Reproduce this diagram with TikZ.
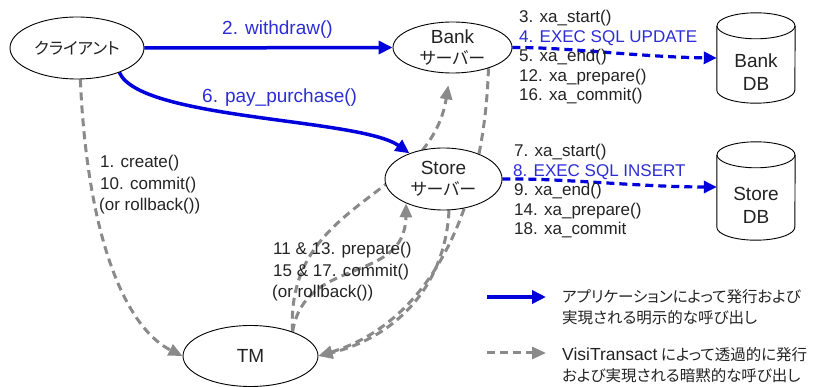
\documentclass[tikz,border=0pt]{standalone}
\usepackage{fontspec}
\setmainfont{Liberation Sans}
\newfontfamily\jp[RawFeature=+palt]{Noto Sans CJK JP}
\usetikzlibrary{arrows.meta,shapes.geometric}
\pgfdeclarelayer{bg}
\pgfsetlayers{bg,main}
\definecolor{lineblue}{RGB}{0,0,220}
\definecolor{txtblue}{RGB}{45,45,215}
\definecolor{lgray}{RGB}{138,138,138}
\definecolor{txt}{RGB}{35,35,35}
\begin{document}
\begin{tikzpicture}[x=1pt,y=-1pt,
  every node/.style={inner sep=0pt, text=txt},
  ell/.style={ellipse, draw=black, line width=0.9pt, fill=white, align=center, font=\fontsize{19}{21}\selectfont},
  lbl/.style={anchor=base west, font=\fontsize{17}{20}\selectfont},
  bluelbl/.style={anchor=base west, text=txtblue, font=\fontsize{19}{22}\selectfont},
  dbtext/.style={align=center, font=\fontsize{19}{23}\selectfont},
  legtext/.style={anchor=west, font=\fontsize{15.5}{18}\selectfont\jp},
  callarrow/.style={draw=lineblue, line width=3.5pt, -{Triangle[length=14pt,width=13pt]}},
  sqlarrow/.style={draw=lineblue, line width=3.2pt, dash pattern=on 8pt off 5pt, -{Triangle[length=13pt,width=12pt]}},
  implarrow/.style={draw=lgray, line width=3pt, dash pattern=on 8pt off 5pt, -{Triangle[length=14pt,width=12pt]}},
  cyl/.style={draw=black, line width=0.9pt, fill=white},
]
\useasboundingbox (0,0) rectangle (817,387);

% main nodes
\node[ell, minimum width=134pt, minimum height=62pt] (client) at (77,48) {\jp\fontsize{16.5}{20}\selectfont クライアント};
\node[ell, minimum width=119pt, minimum height=51pt] (bank) at (452.5,47.5) {Bank\\{\jp\fontsize{17}{21}\selectfont サーバー}};
\node[ell, minimum width=117pt, minimum height=62pt] (store) at (443.5,179) {Store\\{\jp\fontsize{17}{21}\selectfont サーバー}};
\node[ell, minimum width=135pt, minimum height=61pt] (tm) at (250.5,356) {TM};

% databases
\node[minimum width=78pt, minimum height=90pt] (bankdb) at (756,58) {};
\node[minimum width=78pt, minimum height=98pt] (storedb) at (756,191) {};
\foreach \db in {bankdb,storedb}{
  \draw[cyl] ([yshift=-13pt]\db.north west) -- ([yshift=13pt]\db.south west)
    arc[start angle=180, end angle=360, x radius=39pt, y radius=13pt]
    -- ([yshift=-13pt]\db.north east);
  \draw[cyl] ([yshift=-13pt]\db.north) ellipse[x radius=39pt, y radius=13pt];
}
\node[dbtext] (bankdbt) at ([yshift=-14pt]bankdb.center) {Bank\\DB};
\node[dbtext] (storedbt) at ([yshift=-14pt]storedb.center) {Store\\DB};

% labels
\node[bluelbl] (lwithdraw) at (222,35) {2. withdraw()};
\node[bluelbl] (lpay) at (202,103) {6. pay\_purchase()};

\node[lbl] (b1) at (519,23) {3. xa\_start()};
\node[lbl, text=txtblue] (b2) at (519,42.5) {4. EXEC SQL UPDATE};
\node[lbl] (b3) at (519,62) {5. xa\_end()};
\node[lbl] (b4) at (519,81.5) {12. xa\_prepare()};
\node[lbl] (b5) at (519,101) {16. xa\_commit()};

\node[lbl] (s1) at (514,157) {7. xa\_start()};
\node[lbl, text=txtblue] (s2) at (513,176.5) {8. EXEC SQL INSERT};
\node[lbl] (s3) at (514,196) {9. xa\_end()};
\node[lbl] (s4) at (514,215.5) {14. xa\_prepare()};
\node[lbl] (s5) at (514,235) {18. xa\_commit};

\node[lbl] (c1) at (100,168) {1. create()};
\node[lbl] (c2) at (100,189.5) {10. commit()};
\node[lbl] (c3) at (99,211) {(or rollback())};

\node[lbl] (t1) at (273,255) {11 \& 13. prepare()};
\node[lbl] (t2) at (273,276.5) {15 \& 17. commit()};
\node[lbl] (t3) at (272,298) {(or rollback())};

% legend
\coordinate (lg1a) at (487,297);
\coordinate (lg1b) at (546,297);
\coordinate (lg2a) at (487,353);
\coordinate (lg2b) at (546,353);
\node[legtext] (lt1) at (562,297) {アプリケーションによって発行および};
\node[legtext] (lt2) at (562,318) {実現される明示的な呼び出し};
\node[legtext] (lt3) at (562,355) {{\rmfamily\fontsize{17.5}{18}\selectfont VisiTransact} によって透過的に発行};
\node[legtext] (lt4) at (562,376) {および実現される暗黙的な呼び出し};

\begin{pgfonlayer}{bg}
\draw[callarrow] (client.east) -- (bank.west);
\draw[callarrow] (client.-30) .. controls (140,120) and (360,118) .. (store.143);
\draw[sqlarrow] (bank.east) .. controls (565,47) and (640,57) .. (bankdb.west);
\draw[sqlarrow] (store.east) .. controls (560,178) and (640,187) .. ([yshift=4pt]storedb.west);
\draw[implarrow] (client.-84) .. controls (88,250) and (130,330) .. (tm.west);
\draw[implarrow, shorten >=12pt] (tm.30) .. controls (285,200) and (430,200) .. (bank.265);
\draw[implarrow] (tm.30) .. controls (305,255) and (405,285) .. (store.213);
\draw[implarrow] (bank.-30) .. controls (484,210) and (430,322) .. (tm.east);
\draw[implarrow] (store.-80) .. controls (445,290) and (392,338) .. (tm.east);
\draw[callarrow] (lg1a) -- (lg1b);
\draw[implarrow] (lg2a) -- (lg2b);
\end{pgfonlayer}
\end{tikzpicture}
\end{document}
